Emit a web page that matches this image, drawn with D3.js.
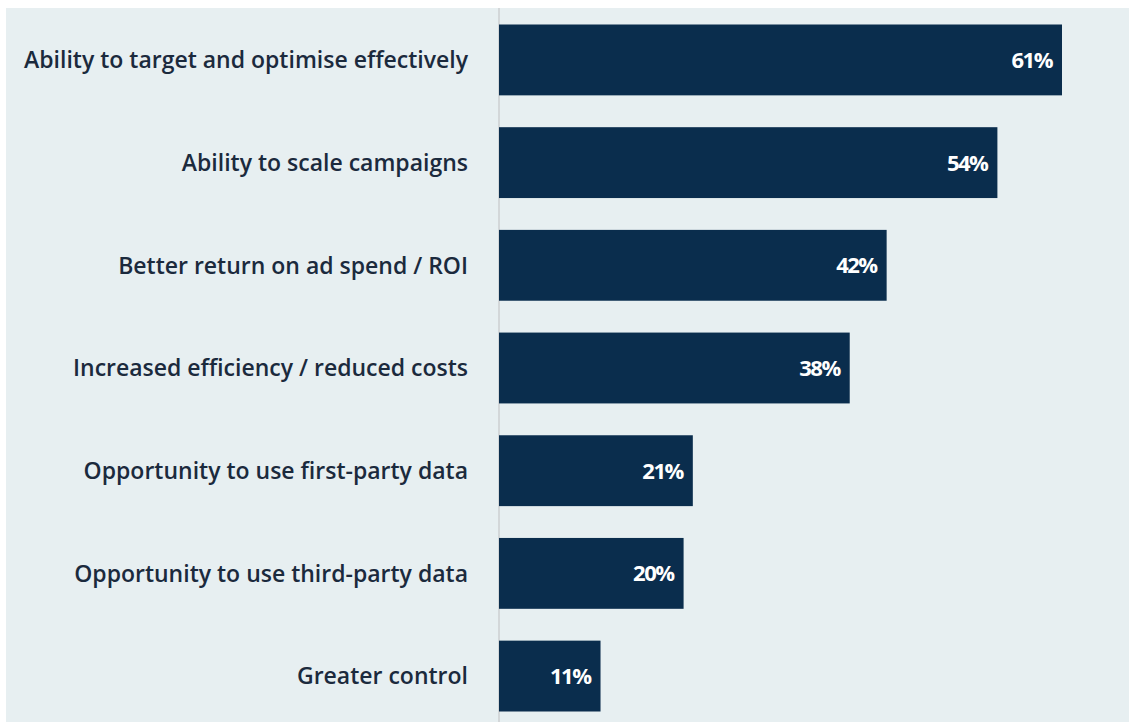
<!DOCTYPE html>
<html>
<head>
<meta charset="utf-8">
<script src="https://cdn.jsdelivr.net/npm/d3@7"></script>
<style>
  body { margin: 0; background: #fff; }
  svg { display: block; }
</style>
</head>
<body>
<div id="chart"></div>
<script>
const categories = [
    "Ability to target and optimise effectively",
    "Ability to scale campaigns",
    "Better return on ad spend / ROI",
    "Increased efficiency / reduced costs",
    "Opportunity to use first-party data",
    "Opportunity to use third-party data",
    "Greater control"
];
const values = [61, 54, 42, 38, 21, 20, 11];

const width = 1129;
const height = 722;

const svg = d3.select("#chart")
    .append("svg")
    .attr("width", width)
    .attr("height", height);

// panel background
svg.append("rect")
    .attr("x", 6)
    .attr("y", 8)
    .attr("width", width - 6)
    .attr("height", height - 8)
    .attr("fill", "#e7eff1");

const x = d3.scaleLinear()
    .domain([0, 61])
    .range([499, 1062]);

const y = d3.scaleBand()
    .domain(categories)
    .range([24.5, 711.5])
    .paddingInner(0.31)
    .paddingOuter(0);

// axis line
svg.append("line")
    .attr("x1", x(0))
    .attr("x2", x(0))
    .attr("y1", 8)
    .attr("y2", height)
    .attr("stroke", "#d3d7d9")
    .attr("stroke-width", 2);

const data = categories.map((c, i) => ({ cat: c, val: values[i] }));

svg.append("g")
    .selectAll("rect")
    .data(data)
    .enter().append("rect")
    .attr("x", x(0))
    .attr("y", d => y(d.cat))
    .attr("width", d => x(d.val) - x(0))
    .attr("height", y.bandwidth())
    .attr("fill", "#0a2d4d");

svg.append("g")
    .selectAll("text")
    .data(data)
    .enter().append("text")
    .attr("x", d => x(d.val) - 10)
    .attr("y", d => y(d.cat) + y.bandwidth() / 2)
    .attr("dy", "0.36em")
    .attr("text-anchor", "end")
    .attr("fill", "#fff")
    .style("font-family", "'Open Sans', sans-serif")
    .style("font-weight", 700)
    .style("font-size", "22px")
    .style("letter-spacing", "-1.5px")
    .text(d => d.val + "%");

svg.append("g")
    .selectAll("text")
    .data(data)
    .enter().append("text")
    .attr("x", 468)
    .attr("y", d => y(d.cat) + y.bandwidth() / 2)
    .attr("dy", "0.36em")
    .attr("text-anchor", "end")
    .attr("fill", "#1b2a3d")
    .style("font-family", "'Open Sans', sans-serif")
    .style("font-weight", 600)
    .style("font-size", "23px")
    .text(d => d.cat);
</script>
</body>
</html>
